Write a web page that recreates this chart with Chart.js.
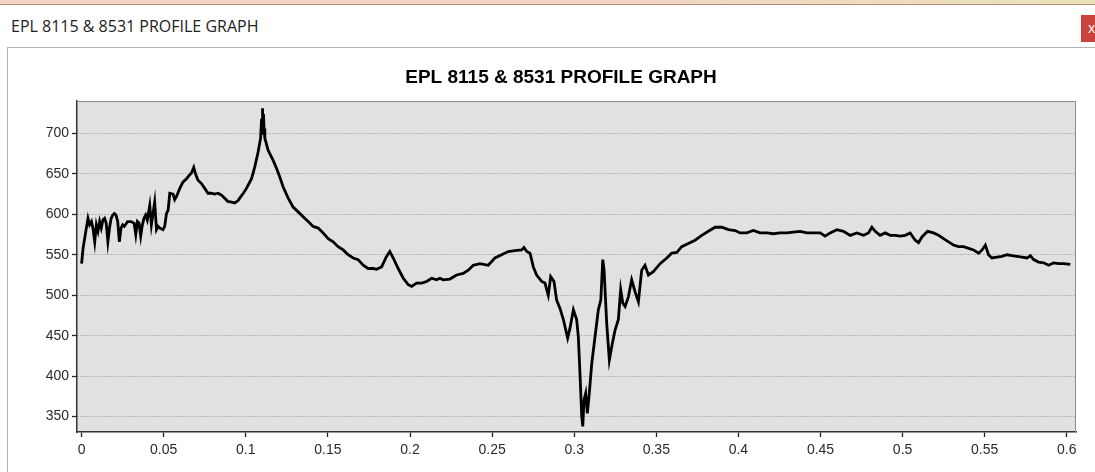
<!DOCTYPE html>
<html>
<head>
<meta charset="utf-8">
<script src="https://cdn.jsdelivr.net/npm/chart.js@4.4.1/dist/chart.umd.min.js"></script>
<style>
  html, body { margin: 0; padding: 0; background: #ffffff; }
  body { width: 1095px; height: 472px; position: relative; overflow: hidden; font-family: "Open Sans", "Noto Sans", sans-serif; }
  #topstrip { position: absolute; left: 0; top: 0; width: 1095px; height: 4px;
    background: linear-gradient(to right, #f1d2c4, #f0d6c6 60%, #e9e2b8); border-bottom: 1px solid #b98a78; }
  #wintitle { position: absolute; left: 11px; top: 18px; font-size: 16px; line-height: 16px; color: #222; white-space: nowrap; }
  #closebtn { position: absolute; left: 1081px; top: 15px; width: 20px; height: 27px; background: #c9423b; color: #fff;
    font-size: 14px; line-height: 25px; padding-left: 7px; box-sizing: border-box; }
  #panel { position: absolute; left: 7px; top: 47px; width: 1100px; height: 440px; border-top: 1px solid #b4b4b4; border-left: 1px solid #b4b4b4; background: #fff; }
  #wrap { position: absolute; left: 0; top: 0; width: 1095px; height: 472px; }
</style>
</head>
<body>
<div id="topstrip"></div>
<div id="wintitle">EPL 8115 &amp; 8531 PROFILE GRAPH</div>
<div id="closebtn">x</div>
<div id="panel"></div>
<div id="wrap"><canvas id="c" width="1095" height="472"></canvas></div>
<script>
const chartTitle = "EPL 8115 & 8531 PROFILE GRAPH";

const profileX = [
  0, 0.0009, 0.0029, 0.0039, 0.0049, 0.006, 0.0069, 0.008, 0.009, 0.010, 0.011, 0.012, 0.013, 0.014, 0.015, 0.016,
  0.017, 0.018, 0.019, 0.020, 0.021, 0.022, 0.023, 0.024, 0.025, 0.026, 0.028, 0.030, 0.032, 0.033, 0.034, 0.035,
  0.036, 0.037, 0.038, 0.039, 0.040, 0.0415, 0.0425, 0.0435, 0.0445, 0.0456, 0.0466, 0.0476, 0.0496, 0.0506, 0.0517,
  0.0527, 0.0537, 0.0557, 0.0567, 0.0578, 0.0598, 0.0618, 0.0639, 0.0659, 0.0669, 0.0683, 0.0695, 0.0709, 0.073,
  0.075, 0.077, 0.079, 0.081, 0.083, 0.085, 0.087, 0.089, 0.0913, 0.0933, 0.0953,
  0.0963, 0.0985, 0.1004, 0.1035, 0.1055, 0.1075, 0.1090, 0.1096, 0.1099, 0.1102, 0.1105, 0.1108, 0.1111, 0.1116,
  0.1136, 0.1166, 0.1187, 0.1207, 0.1227, 0.1258, 0.1288, 0.1319, 0.1349, 0.1380, 0.1410, 0.1441, 0.1471, 0.1502,
  0.1532, 0.1562, 0.1593, 0.1623, 0.1654, 0.1684, 0.1715, 0.1745, 0.1776, 0.1796, 0.1827, 0.1857, 0.1877, 0.1898,
  0.1928, 0.1959, 0.1989, 0.2010, 0.2040, 0.2071, 0.2101, 0.2132, 0.2162, 0.2182, 0.2202, 0.2243, 0.2284, 0.2324,
  0.2355, 0.2385, 0.2426, 0.2477, 0.2517, 0.2558, 0.2598, 0.2639, 0.2680, 0.2694, 0.2711, 0.2731, 0.2751, 0.2771,
  0.2802, 0.2822, 0.2842, 0.2857, 0.2877, 0.2893, 0.2913, 0.2934, 0.2960, 0.2974, 0.2995, 0.3015, 0.3025, 0.3035,
  0.3046, 0.3052, 0.3060, 0.3070, 0.3080, 0.3092, 0.3107, 0.3127, 0.3147, 0.3162, 0.3174, 0.3182, 0.3198, 0.3214,
  0.3229, 0.3249, 0.3269, 0.3283, 0.3296, 0.3310, 0.3330, 0.3350, 0.3371, 0.3391, 0.3411, 0.3431, 0.3452, 0.3482,
  0.3523, 0.3564, 0.3594, 0.3625, 0.3655, 0.3695, 0.3736, 0.3777, 0.3817, 0.3858, 0.3899, 0.3939, 0.3980, 0.4010,
  0.4051, 0.4091, 0.4132, 0.4173, 0.4213, 0.4254, 0.4295, 0.4335, 0.4376, 0.4417, 0.4457, 0.4498, 0.4528, 0.4559,
  0.4600, 0.4640, 0.4681, 0.4721, 0.4762, 0.4792, 0.4813, 0.4833, 0.4863, 0.4894, 0.4924, 0.4955, 0.4985, 0.5016,
  0.5046, 0.5077, 0.5097, 0.5118, 0.5152, 0.5188, 0.5219, 0.5249, 0.5280, 0.5310, 0.5341, 0.5371, 0.5402, 0.5432,
  0.5463, 0.5484, 0.5504, 0.5523, 0.5544, 0.5575, 0.5605, 0.5636, 0.5666, 0.5697, 0.5727, 0.5758, 0.5778, 0.5798,
  0.5828, 0.5859, 0.5889, 0.5920, 0.5950, 0.5981, 0.6021
];

const profileY = [
  539, 558, 583, 595, 587, 591, 583, 566, 587, 579, 591, 583, 593, 595, 589, 566,
  583, 595, 599, 601, 599, 591, 566, 583, 587, 585, 591, 591, 589, 575, 591, 589,
  573, 587, 595, 599, 593, 611, 587, 601, 615, 581, 585, 583, 581, 585, 601,
  605, 626, 625, 618, 622, 632, 640, 644, 649, 651, 658, 649, 642, 638,
  632, 626, 626, 625, 626, 624, 620, 616, 615, 614, 617,
  620, 626, 632, 644, 659, 677, 694, 718, 703, 731, 700, 724, 706, 694,
  679, 667, 657, 646, 634, 620, 609, 603, 597, 591, 585, 583, 577, 570,
  566, 560, 556, 550, 546, 544, 537, 533, 533, 532, 535, 548, 554, 546,
  533, 521, 513, 511, 515, 515, 517, 521, 519, 521, 519, 520, 525, 527,
  531, 537, 539, 537, 546, 550, 554, 555, 556, 559, 554, 552, 535, 525,
  517, 515, 500, 523, 517, 494, 484, 470, 447, 459, 482, 470, 449, 404,
  350, 338, 371, 379, 354, 379, 416, 449, 482, 494, 544, 531, 465, 420,
  437, 457, 470, 507, 490, 486, 498, 519, 504, 492, 531, 537, 525, 529,
  539, 546, 552, 553, 560, 564, 568, 574, 579, 584, 584, 581, 580, 577,
  577, 580, 577, 577, 576, 577, 577, 578, 579, 577, 577, 577, 573, 577,
  581, 579, 574, 577, 574, 577, 584, 579, 574, 577, 574, 574, 573, 574,
  577, 568, 565, 572, 579, 577, 574, 570, 566, 562, 560, 560, 558, 556,
  552, 556, 562, 550, 546, 547, 548, 550, 549, 548, 547, 546, 549, 544,
  541, 540, 537, 540, 539, 539, 538
];

const xTickValues = [0, 0.05, 0.1, 0.15, 0.2, 0.25, 0.3, 0.35, 0.4, 0.45, 0.5, 0.55, 0.6];
const xTickLabels = ["0", "0.05", "0.1", "0.15", "0.2", "0.25", "0.3", "0.35", "0.4", "0.45", "0.5", "0.55", "0.6"];
const yTickValues = [350, 400, 450, 500, 550, 600, 650, 700];
const yTickLabels = ["350", "400", "450", "500", "550", "600", "650", "700"];

const xRange = [-0.0028, 0.6056];
const yRange = [331, 740];

const points = profileX.map((x, i) => ({ x: x, y: profileY[i] }));

const plotFrame = {
  id: 'plotFrame',
  beforeDraw(chart) {
    const a = chart.chartArea, ctx = chart.ctx;
    ctx.save();
    ctx.fillStyle = '#e1e1e1';
    ctx.fillRect(a.left, a.top, a.right - a.left, a.bottom - a.top);
    ctx.restore();
  },
  afterDraw(chart) {
    const a = chart.chartArea, ctx = chart.ctx;
    ctx.save();
    ctx.strokeStyle = '#8c8c8c';
    ctx.lineWidth = 1;
    ctx.beginPath();
    ctx.moveTo(a.left, a.top + 0.5);
    ctx.lineTo(a.right - 0.5, a.top + 0.5);
    ctx.lineTo(a.right - 0.5, a.bottom);
    ctx.stroke();
    ctx.restore();
  }
};

Chart.defaults.font.family = '"Liberation Sans", Arial, sans-serif';

new Chart(document.getElementById('c'), {
  type: 'line',
  data: {
    datasets: [{
      data: points,
      borderColor: '#000000',
      borderWidth: 2.8,
      pointRadius: 0,
      tension: 0,
      fill: false
    }]
  },
  options: {
    responsive: false,
    animation: false,
    events: [],
    layout: { padding: { left: 46, right: 19, top: 0, bottom: 0 } },
    plugins: {
      legend: { display: false },
      tooltip: { enabled: false },
      title: {
        display: true,
        text: chartTitle,
        color: '#000',
        font: { size: 19, weight: 'bold', lineHeight: 1.2 },
        padding: { top: 66.6, bottom: 11.6 }
      }
    },
    scales: {
      x: {
        type: 'linear',
        min: xRange[0],
        max: xRange[1],
        afterFit(scale) { scale.height = 40; },
        afterBuildTicks(scale) { scale.ticks = xTickValues.map(v => ({ value: v })); },
        ticks: {
          color: '#2a2a2a',
          font: { size: 14 },
          padding: 5,
          maxRotation: 0,
          autoSkip: false,
          callback: (v, i) => xTickLabels[i]
        },
        grid: { drawOnChartArea: false, drawTicks: true, tickLength: 5, tickColor: '#222', tickWidth: 1.3 },
        border: { display: true, color: '#333', width: 1.5 }
      },
      y: {
        type: 'linear',
        min: yRange[0],
        max: yRange[1],
        afterFit(scale) { scale.width = 31; },
        afterBuildTicks(scale) { scale.ticks = yTickValues.map(v => ({ value: v })); },
        ticks: {
          color: '#2a2a2a',
          font: { size: 14 },
          padding: 3,
          autoSkip: false,
          callback: (v, i) => yTickLabels[i]
        },
        grid: { drawOnChartArea: true, drawTicks: true, tickLength: 5, color: '#8a8a8a', lineWidth: 1,
                tickColor: '#222', tickWidth: 1.3, tickBorderDash: [] },
        border: { display: true, color: '#333', width: 1.5, dash: [1, 2] }
      }
    }
  },
  plugins: [plotFrame]
});
</script>
</body>
</html>
